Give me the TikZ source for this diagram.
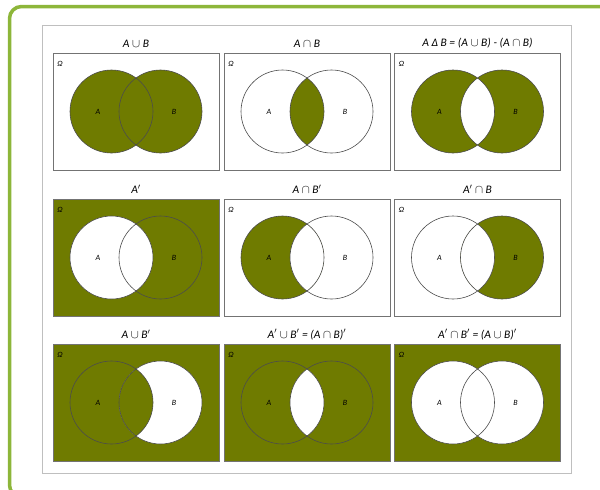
\documentclass[tikz,border=0pt]{standalone}
\usepackage{fontspec}
\setmainfont{Carlito}
\definecolor{olv}{RGB}{111,123,0}
\definecolor{framegreen}{RGB}{141,182,58}
\newcommand\vpanel[5]{%
 \begin{scope}[shift={(#1,#2)}]
  \coordinate (#3a) at (-24.5,0);
  \coordinate (#3b) at (24.5,0);
  #5
  \draw[pbox] (-83,-58.5) rectangle (83,58.5);
  \draw[circ] (#3a) circle[radius=41.5pt] (#3b) circle[radius=41.5pt];
  \node[ttl] (#3t) at (0,-68) {#4};
  \node[lbl] (#3o) at (-76,-47.5) {Ω};
  \node[lbl] (#3la) at (-38,0) {A};
  \node[lbl] (#3lb) at (38,0) {B};
 \end{scope}}
\begin{document}
\begin{tikzpicture}[x=1pt,y=-1pt,
  ttl/.style={font=\fontsize{11.5}{12}\selectfont\itshape, inner sep=0pt},
  lbl/.style={font=\fontsize{8}{9}\selectfont\itshape, inner sep=0pt},
  pbox/.style={draw=black!55, line width=0.7pt},
  circ/.style={draw=black!70, line width=0.6pt}]
\useasboundingbox (0,0) rectangle (600,490);
\fill[white] (0,0) rectangle (600,490);
\begin{scope}
\clip (0,0) rectangle (600,490);
\draw[framegreen, line width=3.5pt, rounded corners=12pt] (9.5,6.5) rectangle (640,497);
\end{scope}
\draw[black!25, line width=0.8pt] (42,25) rectangle (571,473);

% Row 1
\vpanel{136}{111.5}{p1}{A $\cup$ B}{%
  \fill[olv] (p1a) circle[radius=41.5pt] (p1b) circle[radius=41.5pt];}
\vpanel{307}{111.5}{p2}{A $\cap$ B}{%
  \begin{scope}\clip (p2a) circle[radius=41.5pt];
  \fill[olv] (p2b) circle[radius=41.5pt];\end{scope}}
\vpanel{477.5}{111.5}{p3}{A Δ B = (A $\cup$ B) - (A $\cap$ B)}{%
  \fill[olv, even odd rule] (p3a) circle[radius=41.5pt] (p3b) circle[radius=41.5pt];}

% Row 2
\vpanel{136}{257.5}{p4}{A$'$}{%
  \fill[olv] (-83,-58.5) rectangle (83,58.5);
  \fill[white] (p4a) circle[radius=41.5pt];}
\vpanel{307}{257.5}{p5}{A $\cap$ B$'$}{%
  \fill[olv] (p5a) circle[radius=41.5pt];
  \begin{scope}\clip (p5a) circle[radius=41.5pt];
  \fill[white] (p5b) circle[radius=41.5pt];\end{scope}}
\vpanel{477.5}{257.5}{p6}{A$'$ $\cap$ B}{%
  \fill[olv] (p6b) circle[radius=41.5pt];
  \begin{scope}\clip (p6a) circle[radius=41.5pt];
  \fill[white] (p6b) circle[radius=41.5pt];\end{scope}}

% Row 3
\vpanel{136}{402.5}{p7}{A $\cup$ B$'$}{%
  \fill[olv] (-83,-58.5) rectangle (83,58.5);
  \fill[white] (p7b) circle[radius=41.5pt];
  \begin{scope}\clip (p7a) circle[radius=41.5pt];
  \fill[olv] (p7b) circle[radius=41.5pt];\end{scope}}
\vpanel{307}{402.5}{p8}{A$'$ $\cup$ B$'$ = (A $\cap$ B)$'$}{%
  \fill[olv] (-83,-58.5) rectangle (83,58.5);
  \begin{scope}\clip (p8a) circle[radius=41.5pt];
  \fill[white] (p8b) circle[radius=41.5pt];\end{scope}}
\vpanel{477.5}{402.5}{p9}{A$'$ $\cap$ B$'$ = (A $\cup$ B)$'$}{%
  \fill[olv] (-83,-58.5) rectangle (83,58.5);
  \fill[white] (p9a) circle[radius=41.5pt] (p9b) circle[radius=41.5pt];}
\end{tikzpicture}
\end{document}
